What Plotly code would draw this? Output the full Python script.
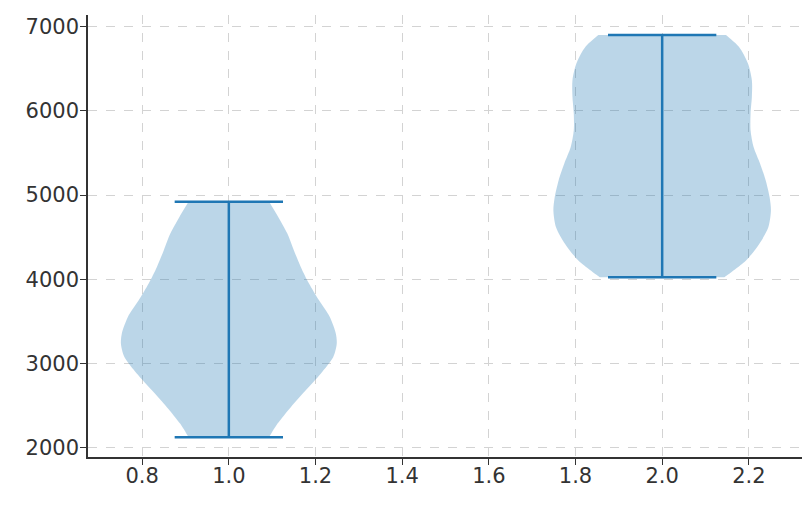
import plotly.graph_objects as go

positions = [1, 2]
# density profiles (y level, half-width in x units)
v1_y = [2126, 2285, 2483, 2681, 2880, 3078, 3236, 3355, 3553, 3751, 3950, 4148, 4346, 4544, 4742, 4921]
v1_w = [0.093, 0.112, 0.143, 0.177, 0.212, 0.241, 0.249, 0.247, 0.233, 0.208, 0.185, 0.166, 0.150, 0.135, 0.114, 0.093]
v2_y = [4024, 4222, 4421, 4619, 4817, 4976, 5175, 5373, 5571, 5770, 5968, 6167, 6365, 6563, 6762, 6901]
v2_w = [0.143, 0.193, 0.224, 0.245, 0.251, 0.248, 0.239, 0.226, 0.211, 0.204, 0.204, 0.207, 0.207, 0.198, 0.177, 0.147]
mins = [2126, 4024]
maxs = [4921, 6901]
xticks = [0.8, 1.0, 1.2, 1.4, 1.6, 1.8, 2.0, 2.2]
yticks = [2000, 3000, 4000, 5000, 6000, 7000]

FILL = "rgba(31,119,180,0.3)"
LINE = "#1f77b4"
CAP = 0.125

fig = go.Figure()
for pos, ys, ws in [(positions[0], v1_y, v1_w), (positions[1], v2_y, v2_w)]:
    # outline: right edge up, left edge down; end corners repeated so the spline keeps flat ends
    right_x = [pos + w for w in ws]
    left_x = [pos - w for w in reversed(ws)]
    rys = list(ys)
    lys = list(reversed(ys))
    xs = [right_x[0]] + right_x + [right_x[-1]] + [left_x[0]] + left_x + [left_x[-1]] + [right_x[0]]
    yy = [rys[0]] + rys + [rys[-1]] + [lys[0]] + lys + [lys[-1]] + [rys[0]]
    fig.add_trace(go.Scatter(x=xs, y=yy, mode="lines", fill="toself", fillcolor=FILL,
                             line=dict(width=0, shape="spline", smoothing=0.8, simplify=False),
                             hoverinfo="skip", showlegend=False))

for pos, lo, hi in zip(positions, mins, maxs):
    fig.add_trace(go.Scatter(x=[pos, pos], y=[lo, hi], mode="lines",
                             line=dict(color=LINE, width=2.5), showlegend=False))
    for v in (lo, hi):
        fig.add_trace(go.Scatter(x=[pos - CAP, pos + CAP], y=[v, v], mode="lines",
                                 line=dict(color=LINE, width=2.5), showlegend=False))

axis_common = dict(showline=True, linecolor="#333333", linewidth=1.5,
                   ticks="outside", ticklen=6, tickwidth=1.3, tickcolor="#333333",
                   showgrid=True, gridcolor="#d3d3d3", gridwidth=1, griddash="dash",
                   zeroline=False, mirror=False, automargin=False,
                   tickfont=dict(family="DejaVu Sans", size=21, color="#333333"))

fig.update_xaxes(range=[0.675, 2.325], tickvals=xticks, ticklabelstandoff=-7,
                 ticktext=[f"{t:.1f}" for t in xticks], **axis_common)
fig.update_yaxes(range=[1891.5, 7138.5], tickvals=yticks, ticklabelstandoff=-3,
                 ticktext=[str(t) for t in yticks], **axis_common)

# page body adds an 8px offset; size the figure so the plot area lands where the reference has it
fig.update_layout(width=802, height=498, margin=dict(l=80, r=7, t=7, b=49),
                  plot_bgcolor="white", paper_bgcolor="white", showlegend=False)
fig.write_html("out.html")
